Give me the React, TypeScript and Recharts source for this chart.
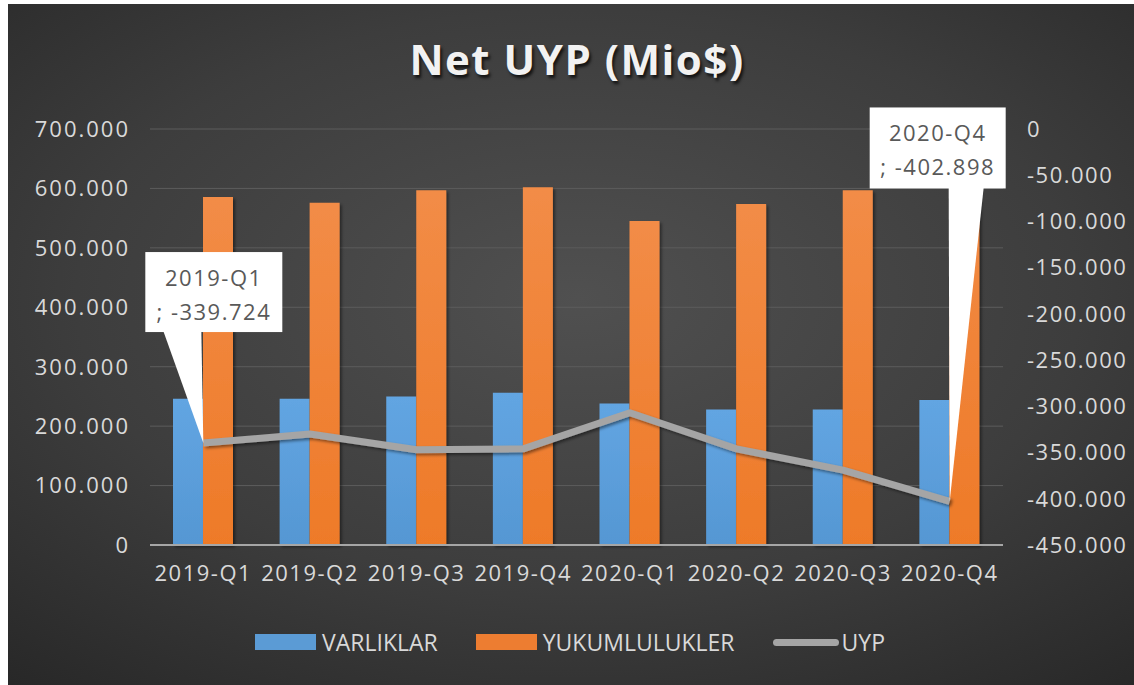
import React from 'react';
import {
  ComposedChart,
  Bar,
  Line,
  XAxis,
  YAxis,
  CartesianGrid,
  Legend,
  LabelList,
} from 'recharts';

const categories = ['2019-Q1', '2019-Q2', '2019-Q3', '2019-Q4', '2020-Q1', '2020-Q2', '2020-Q3', '2020-Q4'];
const varliklar = [246000, 246000, 250000, 256000, 238000, 228000, 228000, 244000];
const yukumlulukler = [585724, 576000, 597000, 602000, 545000, 574000, 597000, 646898];
const uyp = [-339724, -330000, -347000, -346000, -307000, -346000, -369000, -402898];
const leftTicks = [0, 100000, 200000, 300000, 400000, 500000, 600000, 700000];
const rightTicks = [0, -50000, -100000, -150000, -200000, -250000, -300000, -350000, -400000, -450000];
const calloutIndexes = [0, 7];

const data = categories.map((c, i) => ({
  name: c,
  VARLIKLAR: varliklar[i],
  YUKUMLULUKLER: yukumlulukler[i],
  UYP: uyp[i],
}));

const FONT = '"Open Sans", "Noto Sans", sans-serif';

const fmt = (v: number) => {
  const neg = v < 0;
  const s = String(Math.abs(Math.round(v))).replace(/\B(?=(\d{3})+(?!\d))/g, '.');
  return (neg ? '-' : '') + s;
};

const calloutStyle: Record<number, { bx: number; by: number; bw: number; bh: number; p1: number; p2: number }> = {
  0: { bx: -58, by: -191, bw: 137, bh: 80, p1: -40, p2: -2 },
  7: { bx: -80, by: -394, bw: 136, bh: 81, p1: -1, p2: 34 },
};

const Callout = (props: any) => {
  const { x, y, index, value } = props;
  if (!calloutIndexes.includes(index)) return null;
  const c = calloutStyle[index];
  const top = y + c.by;
  const bottom = top + c.bh;
  const cx = x + c.bx + c.bw / 2;
  return (
    <g>
      <path d={`M${x + c.p1},${bottom - 1} L${x},${y} L${x + c.p2},${bottom - 1} Z`} fill="#ffffff" />
      <rect x={x + c.bx} y={top} width={c.bw} height={c.bh} fill="#ffffff" />
      <text x={cx} y={top + 34} textAnchor="middle" fill="#595959" fontSize={22} fontFamily={FONT} letterSpacing={1.5}>
        {categories[index]}
      </text>
      <text x={cx} y={top + 68} textAnchor="middle" fill="#595959" fontSize={22} fontFamily={FONT} letterSpacing={1.5}>
        {'; ' + fmt(value)}
      </text>
    </g>
  );
};

const legendItems = [
  { name: 'VARLIKLAR', color: '#5B9BD5', type: 'rect' },
  { name: 'YUKUMLULUKLER', color: '#ED7D31', type: 'rect' },
  { name: 'UYP', color: '#A5A5A5', type: 'line' },
];

const LegendContent = () => (
  <div style={{ display: 'flex', alignItems: 'center', fontFamily: FONT }}>
    {legendItems.map((it, i) => (
      <div key={it.name} style={{ display: 'flex', alignItems: 'center', marginRight: i < 2 ? 38 : 0 }}>
        {it.type === 'rect' ? (
          <div style={{ width: 61, height: 16, background: it.color, marginRight: 6 }} />
        ) : (
          <div style={{ width: 66, height: 7, borderRadius: 4, background: it.color, marginRight: 3 }} />
        )}
        <span style={{ color: '#d9d9d9', fontSize: 23, lineHeight: '30px' }}>{it.name}</span>
      </div>
    ))}
  </div>
);

export default function App() {
  return (
    <>
      <style>{`html, body { overflow: hidden; }`}</style>
      <div
        style={{
          position: 'absolute',
          top: 4,
          left: 8,
          width: 1140,
          height: 700,
          overflow: 'hidden',
          background: 'radial-gradient(ellipse 80% 75% at 50% 42%, #505050 0%, #3d3d3d 55%, #262626 100%)',
        }}
      >
        <div
          style={{
            position: 'absolute',
            top: 34,
            left: 0,
            width: 1138,
            textAlign: 'center',
            fontFamily: FONT,
            fontWeight: 700,
            fontSize: 42,
            lineHeight: '42px',
            letterSpacing: 1.5,
            color: '#f2f2f2',
            textShadow: '2px 3px 3px rgba(0,0,0,0.7)',
            zIndex: 2,
          }}
        >
          Net UYP (Mio$)
        </div>
        <ComposedChart
          width={1126}
          height={681}
          data={data}
          margin={{ top: 125, right: 0, left: 0, bottom: 100 }}
          barGap={0}
        >
          <defs>
            <linearGradient id="gBlue" x1="0" y1="0" x2="0" y2="1">
              <stop offset="0%" stopColor="#62A5E2" />
              <stop offset="100%" stopColor="#5597D3" />
            </linearGradient>
            <linearGradient id="gOrange" x1="0" y1="0" x2="0" y2="1">
              <stop offset="0%" stopColor="#F28C47" />
              <stop offset="100%" stopColor="#EE7A28" />
            </linearGradient>
            <filter id="shadow" x="-20%" y="-20%" width="140%" height="140%">
              <feDropShadow dx="2" dy="2" stdDeviation="1.5" floodColor="#000" floodOpacity="0.45" />
            </filter>
          </defs>
          <CartesianGrid yAxisId="left" vertical={false} stroke="#5c5c5c" strokeWidth={1} />
          <XAxis
            dataKey="name"
            height={40}
            axisLine={{ stroke: '#a6a6a6', strokeWidth: 2 }}
            tickLine={false}
            tickSize={0}
            tickMargin={20}
            interval={0}
            tick={{ fill: '#d9d9d9', fontSize: 22, fontFamily: FONT, letterSpacing: 1.5 }}
          />
          <YAxis
            yAxisId="left"
            orientation="left"
            width={142}
            domain={[0, 700000]}
            ticks={leftTicks}
            tickFormatter={fmt}
            axisLine={false}
            tickLine={false}
            tickSize={0}
            tickMargin={20}
            tick={{ fill: '#d9d9d9', fontSize: 22, fontFamily: FONT, letterSpacing: 2 }}
          />
          <YAxis
            yAxisId="right"
            orientation="right"
            width={131}
            domain={[-450000, 0]}
            ticks={rightTicks}
            tickFormatter={fmt}
            axisLine={false}
            tickLine={false}
            tickSize={0}
            tickMargin={24}
            tick={{ fill: '#d9d9d9', fontSize: 22, fontFamily: FONT, letterSpacing: 1.5 }}
          />
          <Bar yAxisId="left" dataKey="VARLIKLAR" fill="url(#gBlue)" barSize={30} isAnimationActive={false} filter="url(#shadow)" />
          <Bar yAxisId="left" dataKey="YUKUMLULUKLER" fill="url(#gOrange)" barSize={30} isAnimationActive={false} filter="url(#shadow)" />
          <Line
            yAxisId="right"
            dataKey="UYP"
            stroke="#A5A5A5"
            strokeWidth={7}
            dot={false}
            activeDot={false}
            strokeLinejoin="round"
            isAnimationActive={false}
            filter="url(#shadow)"
          >
            <LabelList dataKey="UYP" content={Callout} />
          </Line>
          <Legend
            layout="horizontal"
            verticalAlign="middle"
            align="center"
            content={LegendContent}
            wrapperStyle={{ top: 623, left: 247, width: 'auto', height: 30 }}
          />
        </ComposedChart>
      </div>
    </>
  );
}
